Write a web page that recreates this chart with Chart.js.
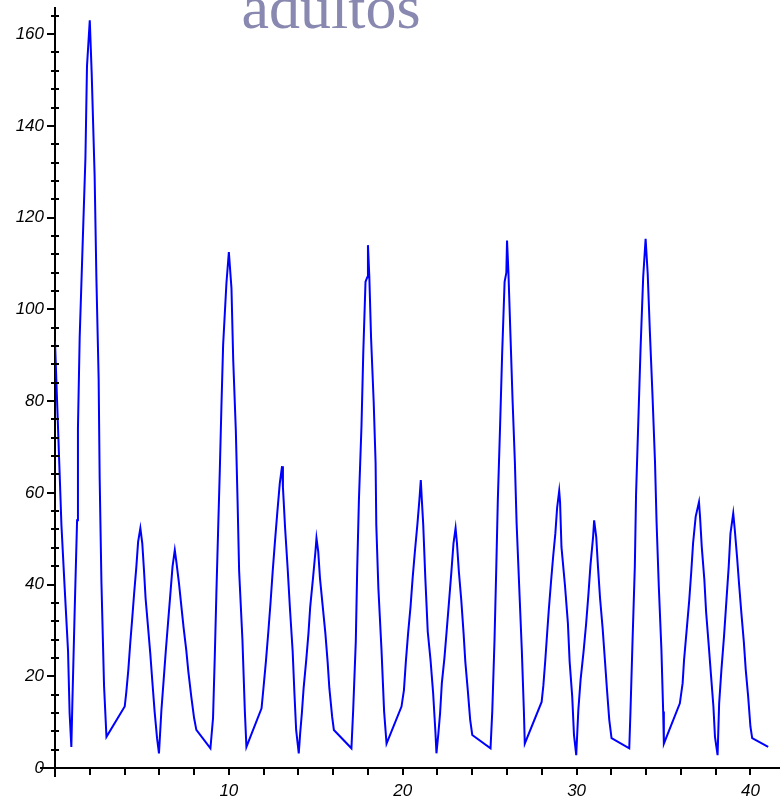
<!DOCTYPE html>
<html>
<head>
<meta charset="utf-8">
<script src="https://cdn.jsdelivr.net/npm/chart.js@4/dist/chart.umd.min.js"></script>
<style>
  html, body { margin: 0; padding: 0; background: #ffffff; }
  #wrap { width: 780px; height: 800px; position: relative; }
</style>
</head>
<body>
<div id="wrap"><canvas id="c" width="780" height="800"></canvas></div>
<script>
// ---- data ----
const chartTitle = "adultos";

const timeValues = [
  0, 0.12, 0.25, 0.37, 0.56, 0.75, 0.84, 0.94, 1.0, 1.13, 1.27, 1.32, 1.42, 1.58, 1.75, 1.84, 2.0, 2.11, 2.28, 2.38, 2.51, 2.57, 2.67, 2.82, 2.96,
  4.01, 4.1, 4.22, 4.33, 4.45, 4.55, 4.68, 4.78, 4.91, 5.02, 5.12, 5.21, 5.35, 5.48, 5.6, 5.73, 5.87, 5.98,
  6.12, 6.25, 6.37, 6.5, 6.63, 6.76, 6.89, 6.98, 7.13, 7.27, 7.4, 7.55, 7.67, 7.84, 8.0, 8.13, 8.94,
  9.09, 9.19, 9.28, 9.38, 9.48, 9.57, 9.67, 9.86, 10.0, 10.15, 10.25, 10.4, 10.5, 10.59, 10.78, 10.92, 11.01,
  11.88, 11.98, 12.13, 12.27, 12.4, 12.52, 12.65, 12.79, 12.93, 13.06, 13.11, 13.15, 13.23, 13.38, 13.52, 13.67, 13.77, 13.87, 14.02,
  14.1, 14.2, 14.3, 14.45, 14.58, 14.68, 14.84, 14.98, 15.04, 15.14, 15.24, 15.4, 15.55, 15.68, 15.78, 15.94, 16.04, 17.05,
  17.15, 17.3, 17.38, 17.48, 17.63, 17.73, 17.86, 17.96, 18.0, 18.08, 18.18, 18.33, 18.44, 18.48, 18.6, 18.78, 18.93, 19.07,
  19.93, 20.07, 20.18, 20.31, 20.45, 20.57, 20.7, 20.85, 20.96, 21.04, 21.1, 21.18, 21.3, 21.44, 21.6, 21.75, 21.88, 21.94,
  22.05, 22.15, 22.25, 22.4, 22.53, 22.67, 22.8, 22.92, 23.04, 23.12, 23.23, 23.37, 23.5, 23.6, 23.75, 23.88, 24.0, 25.05,
  25.15, 25.28, 25.38, 25.47, 25.6, 25.72, 25.86, 25.96, 26.0, 26.08, 26.2, 26.32, 26.45, 26.55, 26.7, 26.85, 26.97, 27.02,
  27.99, 28.09, 28.2, 28.3, 28.4, 28.53, 28.65, 28.78, 28.88, 29.0, 29.05, 29.13, 29.33, 29.5, 29.6, 29.75, 29.85, 29.98,
  30.1, 30.23, 30.4, 30.55, 30.68, 30.8, 30.95, 31.01, 31.13, 31.23, 31.35, 31.5, 31.63, 31.75, 31.88, 32.01, 33.03,
  33.1, 33.22, 33.35, 33.42, 33.55, 33.68, 33.83, 33.97, 34.09, 34.22, 34.37, 34.51, 34.6, 34.73, 34.88, 34.98, 35.02,
  35.94, 36.1, 36.18, 36.33, 36.48, 36.6, 36.7, 36.85, 37.04, 37.1, 37.2, 37.35, 37.45, 37.6, 37.73, 37.87, 37.96, 38.11,
  38.2, 38.33, 38.48, 38.62, 38.75, 38.85, 39.01, 39.1, 39.23, 39.35, 39.48, 39.62, 39.73, 39.87, 40.0, 40.1, 41.02
];

const adultValues = [
  93, 80, 66, 53, 39, 25.5, 12, 4.6, 14.4, 34, 54, 74, 94, 113, 133, 153, 163, 151.5, 129, 107, 85, 63, 40.6, 18, 6.8,
  13.4, 16.5, 21.5, 27.3, 33, 38, 43.9, 49.3, 52.3, 49, 43, 37, 30.8, 25, 18.8, 12.3, 6.5, 3.2,
  12.6, 19.2, 25.4, 31.6, 37.7, 43.9, 47.5, 45, 40.3, 35.2, 30.5, 25.7, 21, 15.5, 10.9, 8.3, 4.3,
  10.9, 24.3, 37.7, 51.5, 65, 78.5, 92.2, 105.7, 112.5, 104.6, 89, 73.7, 58.4, 43, 28, 12.3, 4.6,
  13, 17, 23.2, 29.7, 36.2, 42.8, 49.3, 55.9, 62.1, 65.8, 61.2, 58.4, 52.6, 43.6, 34.4, 25.4, 16.4, 8.3, 3.2,
  7.5, 12, 17.4, 23.5, 29.4, 35.2, 41.4, 47.2, 50.1, 47.2, 41.4, 35.2, 29.4, 23.2, 17.4, 11.2, 8.3, 4.3,
  12.6, 27.5, 43, 58.4, 74.8, 90.4, 106, 107, 114, 107, 93.7, 79.8, 66.5, 53, 39.2, 25.7, 12.3, 5.3,
  13.4, 17, 23.2, 29.4, 35.2, 41.4, 47.2, 53.4, 58.5, 62.8, 58.4, 53, 41.4, 29.7, 23.5, 16.3, 7.9, 3.2,
  7.5, 12, 18.5, 24, 30, 36.6, 42.8, 49, 52.3, 49, 42.8, 36.5, 29.4, 23.2, 16.6, 10.5, 7.2, 4.3,
  12.3, 27.9, 43.5, 58.4, 74.5, 90.5, 106, 108, 115, 108, 94, 80, 66.8, 53.4, 39.5, 25.7, 12.3, 5.3,
  14.4, 18, 23.5, 29, 34.4, 40.6, 46, 51.2, 56.7, 60.4, 58, 48.2, 39.9, 31.6, 23.2, 15.5, 7.2, 2.8,
  12.6, 19.2, 25.3, 31.5, 37.8, 44.3, 50.4, 54, 50.4, 43.9, 37, 30.4, 23.5, 17, 10.5, 6.5, 4.3,
  12.3, 27.9, 43.9, 59.5, 75.5, 91.5, 107, 115.4, 107.8, 94.7, 80.9, 66.8, 53.7, 39.5, 25.7, 12.3, 5.3,
  14.1, 18.5, 23.5, 30, 36.6, 43, 49, 54.8, 58, 54.8, 48.2, 41, 34, 26.8, 20.3, 13.4, 6.8, 2.8,
  14.1, 21.4, 28.7, 36.6, 43.9, 51.1, 55.5, 51.9, 46, 39.9, 33.7, 27.5, 21.4, 15.5, 9, 6.5, 4.6
];

const xMajorTicks = [10, 20, 30, 40];
const yMajorTicks = [0, 20, 40, 60, 80, 100, 120, 140, 160];

// ---- chart ----
const points = timeValues.map((t, i) => ({ x: t, y: adultValues[i] }));

const decorPlugin = {
  id: 'decor',
  afterDraw(chart) {
    const ctx = chart.ctx;
    const xs = chart.scales.x, ys = chart.scales.y;
    const x0 = xs.getPixelForValue(0);
    const y0 = ys.getPixelForValue(0);
    ctx.save();
    ctx.strokeStyle = '#000000';
    ctx.lineWidth = 2;
    ctx.beginPath();
    // axis extensions past the origin
    ctx.moveTo(x0 - 15, y0); ctx.lineTo(x0, y0);
    ctx.moveTo(x0, y0); ctx.lineTo(x0, y0 + 9);
    // minor y ticks (every 4), crossing the axis
    for (let v = 4; v <= 164; v += 4) {
      if (v % 20 === 0) continue;
      const py = Math.round(ys.getPixelForValue(v));
      ctx.moveTo(x0 - 4, py); ctx.lineTo(x0 + 4, py);
    }
    // minor x ticks (every 2)
    for (let v = 2; v <= 40; v += 2) {
      if (v % 10 === 0) continue;
      const px = Math.round(xs.getPixelForValue(v));
      ctx.moveTo(px, y0); ctx.lineTo(px, y0 + 7);
    }
    ctx.stroke();
    // title
    ctx.fillStyle = 'rgb(136,136,176)';
    ctx.font = "62px 'Liberation Serif', 'DejaVu Serif', serif";
    ctx.textAlign = 'center';
    ctx.textBaseline = 'alphabetic';
    ctx.fillText(chartTitle, 331, 28);
    ctx.restore();
  }
};

new Chart(document.getElementById('c'), {
  type: 'line',
  data: {
    datasets: [{
      label: chartTitle,
      data: points,
      borderColor: '#0000FF',
      borderWidth: 2,
      pointRadius: 0,
      tension: 0,
      fill: false
    }]
  },
  options: {
    responsive: false,
    animation: false,
    layout: { padding: { top: 8, right: 0, left: 0, bottom: 0 } },
    plugins: { legend: { display: false }, title: { display: false }, tooltip: { enabled: false } },
    scales: {
      x: {
        type: 'linear',
        min: 0,
        max: 41.7,
        afterFit(scale) { scale.height = 32; scale.paddingLeft = 0; scale.paddingRight = 0; },
        border: { display: true, color: '#000000', width: 2 },
        grid: { drawOnChartArea: false, drawTicks: true, tickLength: 7, color: '#000000', lineWidth: 2 },
        ticks: {
          stepSize: 10,
          includeBounds: false,
          maxRotation: 0,
          autoSkip: false,
          padding: 6,
          color: '#000000',
          font: { family: "'Liberation Sans', Arial, sans-serif", size: 17, style: 'italic' },
          callback: (v) => xMajorTicks.includes(v) ? String(v) : ''
        }
      },
      y: {
        type: 'linear',
        min: 0,
        max: 165.7,
        afterFit(scale) { scale.width = 55; scale.paddingTop = 0; scale.paddingBottom = 0; },
        border: { display: true, color: '#000000', width: 2 },
        grid: { drawOnChartArea: false, drawTicks: true, tickLength: 8, color: '#000000', lineWidth: 2 },
        ticks: {
          stepSize: 20,
          includeBounds: false,
          autoSkip: false,
          padding: 3,
          color: '#000000',
          font: { family: "'Liberation Sans', Arial, sans-serif", size: 17, style: 'italic' },
          callback: (v) => yMajorTicks.includes(v) ? String(v) : ''
        }
      }
    }
  },
  plugins: [decorPlugin]
});
</script>
</body>
</html>
